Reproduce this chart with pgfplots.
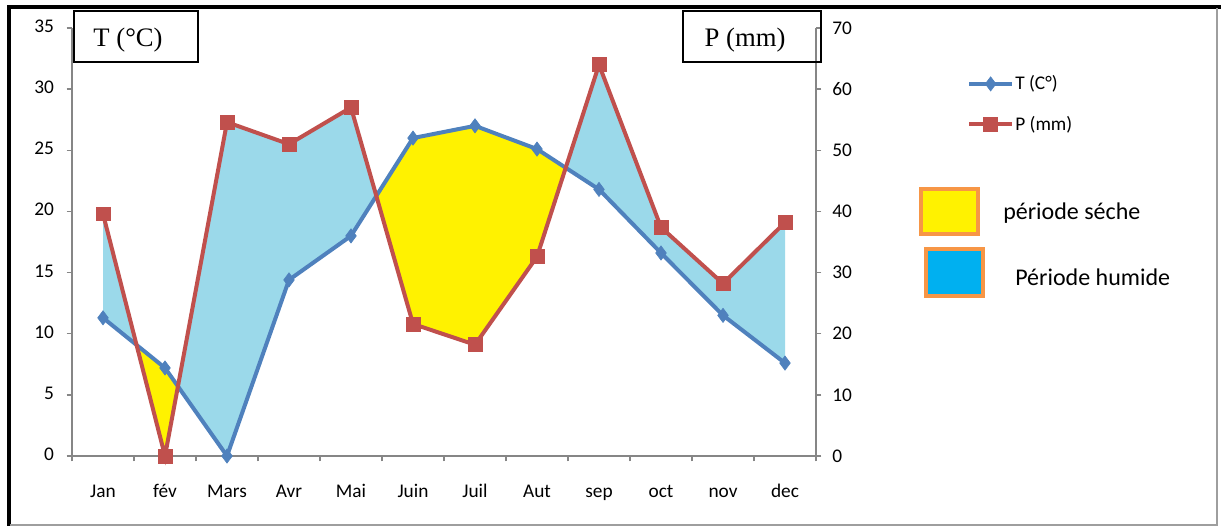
\documentclass[border=0pt]{standalone}
\usepackage{fontspec}
\setmainfont{Carlito}
\newfontfamily\timesf{Liberation Serif}
\usepackage{pgfplots}
\usepackage{pgfplotstable}
\usepgfplotslibrary{fillbetween}
\pgfplotsset{compat=1.18}

\definecolor{tblue}{RGB}{79,129,189}
\definecolor{pred}{RGB}{192,80,77}
\definecolor{humide}{RGB}{155,217,234}
\definecolor{orangeb}{RGB}{247,150,70}
\definecolor{cyanb}{RGB}{0,176,240}
\definecolor{axgray}{RGB}{134,134,134}

% T en degres, P en mm (P trace sur l'echelle T : 2T = P)
\pgfplotstableread{
x  T     P
0  11.3  39.6
1  7.2   0
2  0     54.6
3  14.4  51
4  18    57
5  26    21.6
6  27    18.2
7  25.1  32.6
8  21.8  64
9  16.6  37.4
10 11.5  28.2
11 7.6   38.2
}\climat

\pgfplotsset{
  commun/.style={
    at={(54pt,-342pt)}, anchor=south west,
    scale only axis, width=558pt, height=321pt,
    xmin=-0.5, xmax=11.5,
    axis line style={-, draw=axgray, line width=1.1pt},
    tick style={axgray, line width=1pt},
    tick align=outside,
    major tick length=4pt, minor tick length=4pt,
    tick label style={font=\fontsize{14.5}{17}\selectfont, black},
    /pgf/number format/assume math mode=true,
  }
}

\begin{document}
\begin{tikzpicture}

\begin{axis}[commun,
  ymin=0, ymax=35,
  axis x line*=bottom, axis y line*=left,
  xtick={0,...,11},
  xticklabels={Jan,fév,Mars,Avr,Mai,Juin,Juil,Aut,sep,oct,nov,dec},
  typeset ticklabels with strut,
  minor xtick={-0.5,0.5,...,11.5},
  major x tick style={draw=none},
  ytick={0,5,...,35},
  yticklabel style={xshift=-6pt},
  xticklabel style={yshift=-12pt},
  clip=false,
  legend style={at={(1.203,0.892)}, anchor=north west, draw=none, fill=none,
    inner sep=0pt, font=\fontsize{14.5}{17}\selectfont, row sep=16pt,
    nodes={inner sep=1pt}},
  legend cell align=left,
  legend image code/.code={\draw[mark repeat=2,mark phase=2] plot coordinates {(0pt,0pt) (16pt,0pt) (32pt,0pt)};},
]
\addplot[name path=T, tblue, line width=3pt, mark=diamond*, mark size=5.3pt,
  mark options={solid, line width=0.5pt, fill=tblue}]
  table[x=x, y=T] {\climat};
\addlegendentry{T (C°)}
\addplot[name path=P, pred, line width=3pt, mark=square*, mark size=5.2pt,
  mark options={solid, line width=0.5pt, fill=pred}]
  table[x=x, y expr=\thisrow{P}/2] {\climat};
\addlegendentry{P (mm)}
\addplot[fill=humide, draw=none, forget plot] fill between[of=T and P, split,
  every segment no 1/.style={fill=yellow},
  every segment no 3/.style={fill=yellow}];
\end{axis}

\begin{axis}[commun,
  ymin=0, ymax=70,
  axis y line*=right, axis x line=none,
  ytick={0,10,...,70},
  yticklabel style={xshift=4.7pt},
]
\addplot[draw=none, forget plot] table[x=x, y=P] {\climat};
\end{axis}

\begin{scope}[x=0.75pt, y=-0.75pt]
  % cadre
  \draw[line width=3pt] (7,7) -- (1221,7);
  \draw[line width=2.8pt] (9,5.5) -- (9,526);
  \draw[axgray!80, line width=1.5pt] (10,524.5) -- (1217,524.5) -- (1217,8);
  % titres des axes
  \draw[line width=1.2pt] (74,11) rectangle (198,62);
  \node[font=\timesf\fontsize{20}{24}\selectfont] at (128,40) {T (°C)};
  \draw[line width=1.2pt] (683,11) rectangle (821,62);
  \node[font=\timesf\fontsize{20}{24}\selectfont] at (745,40) {P (mm)};
  % periodes
  \draw[orangeb, line width=3pt, fill=yellow] (921,189) rectangle (978,234);
  \node[anchor=west, inner sep=0pt, font=\fontsize{18}{21}\selectfont] at (1003,213) {période séche};
  \draw[orangeb, line width=3pt, fill=cyanb] (926,249) rectangle (983,296);
  \node[anchor=west, inner sep=0pt, font=\fontsize{18}{21}\selectfont] at (1015,277) {Période humide};
\end{scope}
\pgfresetboundingbox
\useasboundingbox (0,0) rectangle (915.75pt,-396pt);
\end{tikzpicture}
\end{document}
